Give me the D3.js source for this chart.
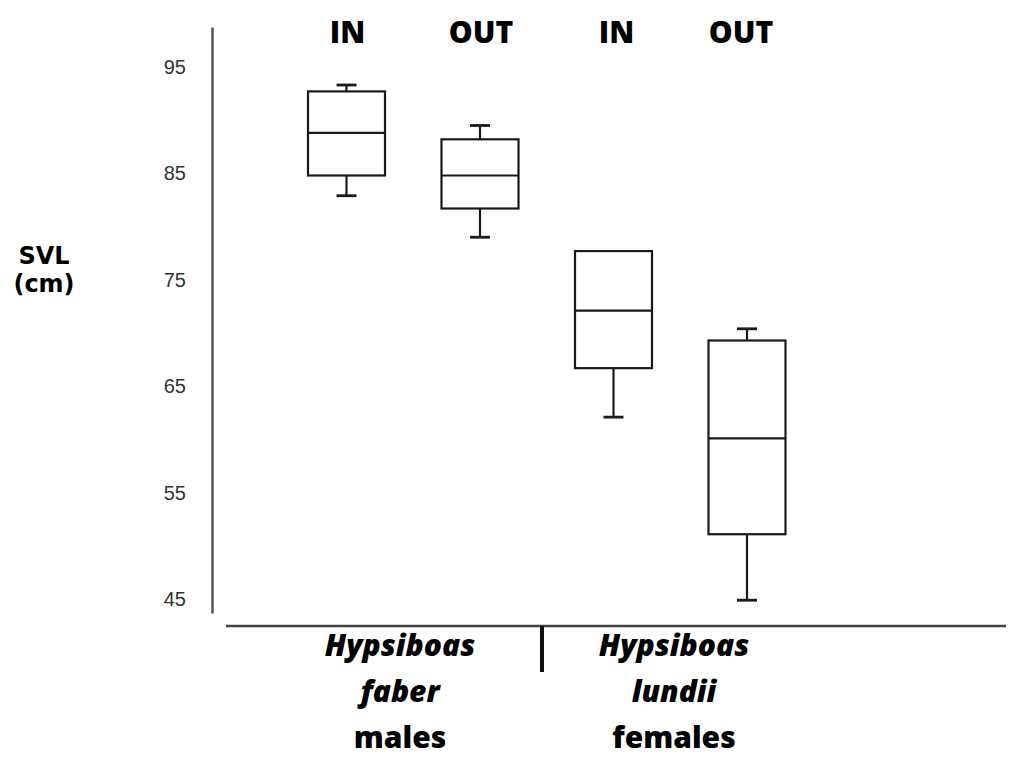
<!DOCTYPE html>
<html>
<head>
<meta charset="utf-8">
<script src="https://cdn.jsdelivr.net/npm/d3@7/dist/d3.min.js"></script>
<style>
  html, body { margin: 0; padding: 0; background: #fff; }
  svg { display: block; }
</style>
</head>
<body>
<script>
// ---- data ----
const groups = ["faber IN", "faber OUT", "lundii IN", "lundii OUT"];
const topLabels = ["IN", "OUT", "IN", "OUT"];
const whiskerMin = [82.9, 79.0, 62.1, 44.9];
const q1 = [84.8, 81.7, 66.7, 51.1];
const median = [88.8, 84.8, 72.1, 60.1];
const q3 = [92.7, 88.2, 77.7, 69.3];
const whiskerMax = [93.3, 89.5, 77.6, 70.4];
const yTicks = [45, 55, 65, 75, 85, 95];
const speciesLines = [["Hypsiboas", "faber", "males"], ["Hypsiboas", "lundii", "females"]];
const yTitle = ["SVL", "(cm)"];

// ---- layout ----
const W = 1009, H = 765;
const svg = d3.select("body").append("svg").attr("width", W).attr("height", H);

const y = d3.scaleLinear().domain([43.7, 98.75]).range([613, 27]);
const x = d3.scaleBand().domain(groups).range([308, 785.5]).paddingInner(0.4232).paddingOuter(0);
const bw = x.bandwidth();
const capW = 20;

// y axis
const yAxis = svg.append("g").attr("transform", "translate(212,0)")
  .call(d3.axisLeft(y).tickValues(yTicks).tickSize(0).tickPadding(26).tickFormat(d3.format("d")));
yAxis.select(".domain").attr("stroke", "#555").attr("stroke-width", 2.5);
yAxis.selectAll("text")
  .attr("font-family", "'Liberation Sans', Arial, sans-serif")
  .attr("font-size", 20).attr("fill", "#333");

// x axis baseline
svg.append("line").attr("x1", 226).attr("x2", 1006).attr("y1", 626).attr("y2", 626)
  .attr("stroke", "#444").attr("stroke-width", 2.5);
// divider
svg.append("line").attr("x1", 542).attr("x2", 542).attr("y1", 626).attr("y2", 672)
  .attr("stroke", "#111").attr("stroke-width", 4);

// boxes
const data = groups.map((g, i) => ({ g, i, lo: whiskerMin[i], q1: q1[i], med: median[i], q3: q3[i], hi: whiskerMax[i] }));
const bx = svg.append("g").selectAll("g").data(data).join("g");
const stroke = "#1a1a1a", sw = 2.2;
bx.append("line") // upper whisker
  .attr("x1", d => x(d.g) + bw / 2).attr("x2", d => x(d.g) + bw / 2)
  .attr("y1", d => y(d.q3)).attr("y2", d => y(d.hi))
  .attr("stroke", stroke).attr("stroke-width", sw);
bx.append("line")
  .attr("x1", d => x(d.g) + bw / 2).attr("x2", d => x(d.g) + bw / 2)
  .attr("y1", d => y(d.q1)).attr("y2", d => y(d.lo))
  .attr("stroke", stroke).attr("stroke-width", sw);
bx.append("line")
  .attr("x1", d => x(d.g) + bw / 2 - capW / 2).attr("x2", d => x(d.g) + bw / 2 + capW / 2)
  .attr("y1", d => y(d.hi)).attr("y2", d => y(d.hi))
  .attr("stroke", stroke).attr("stroke-width", sw + 0.6);
bx.append("line")
  .attr("x1", d => x(d.g) + bw / 2 - capW / 2).attr("x2", d => x(d.g) + bw / 2 + capW / 2)
  .attr("y1", d => y(d.lo)).attr("y2", d => y(d.lo))
  .attr("stroke", stroke).attr("stroke-width", sw + 0.6);
bx.append("rect")
  .attr("x", d => x(d.g)).attr("width", bw)
  .attr("y", d => y(d.q3)).attr("height", d => y(d.q1) - y(d.q3))
  .attr("fill", "#fff").attr("stroke", stroke).attr("stroke-width", sw);
bx.append("line")
  .attr("x1", d => x(d.g)).attr("x2", d => x(d.g) + bw)
  .attr("y1", d => y(d.med)).attr("y2", d => y(d.med))
  .attr("stroke", stroke).attr("stroke-width", sw);

// top labels
const topNudge = [1, 1, 3, -6];
svg.append("g").selectAll("text").data(groups).join("text")
  .attr("x", (d, i) => x(d) + bw / 2 + topNudge[i]).attr("y", 43)
  .attr("text-anchor", "middle")
  .attr("font-family", "'Open Sans', 'DejaVu Sans', sans-serif")
  .attr("font-weight", 800).attr("font-size", 30).attr("fill", "#000")
  .text((d, i) => topLabels[i]);

// y title
svg.append("g").selectAll("text").data(yTitle).join("text")
  .attr("x", 44).attr("y", (d, i) => 264 + i * 28)
  .attr("text-anchor", "middle")
  .attr("font-family", "'DejaVu Sans', sans-serif")
  .attr("font-weight", 700).attr("font-size", 24).attr("fill", "#000")
  .text(d => d);

// species labels
const speciesX = [400, 674];
speciesLines.forEach((lines, k) => {
  svg.append("g").selectAll("text").data(lines).join("text")
    .attr("x", speciesX[k]).attr("y", (d, i) => 656 + i * 46)
    .attr("text-anchor", "middle")
    .attr("font-family", "'Open Sans', 'DejaVu Sans', sans-serif")
    .attr("font-weight", 800).attr("font-size", 30)
    .attr("font-style", (d, i) => i < 2 ? "italic" : "normal")
    .attr("fill", "#000")
    .text(d => d);
});
</script>
</body>
</html>
